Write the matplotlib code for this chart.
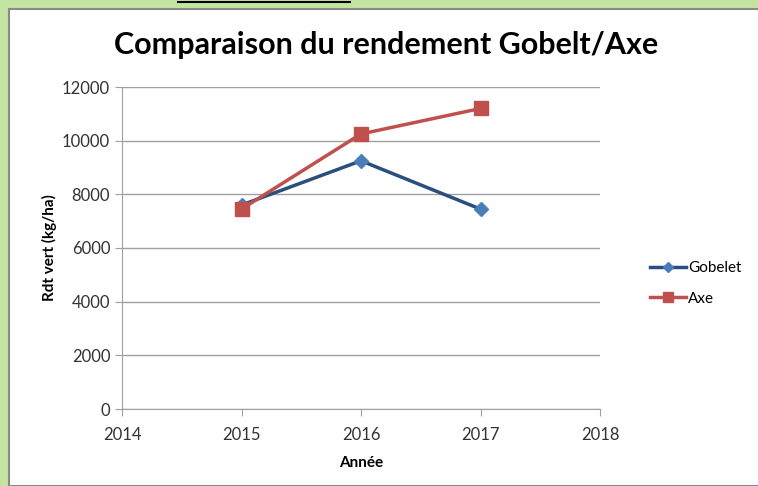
import matplotlib.pyplot as plt
from matplotlib.patches import Rectangle
from matplotlib.lines import Line2D

plt.rcParams['font.family'] = ['Lato', 'DejaVu Sans']

annees = [2015, 2016, 2017]
gobelet = [7600, 9250, 7450]
axe = [7450, 10250, 11200]
xticks = [2014, 2015, 2016, 2017, 2018]
yticks = [0, 2000, 4000, 6000, 8000, 10000, 12000]

fig = plt.figure(figsize=(7.58, 4.86), dpi=100)
fig.patch.set_facecolor('#c4e4a2')

# white chart panel (screenshot crop)
panel = Rectangle((9 / 758, 0), 1.0, 1 - 9 / 486, transform=fig.transFigure,
                  facecolor='white', edgecolor='#8a8a8a', linewidth=1.5, zorder=-5)
fig.patches.append(panel)
# underline fragment from the text above the crop
fig.add_artist(Line2D([178 / 758, 350 / 758], [1 - 2 / 486, 1 - 2 / 486],
                      transform=fig.transFigure, color='black', linewidth=1.5))

ax = fig.add_axes([122 / 758, 77 / 486, 478 / 758, 322 / 486])
ax.set_zorder(2)
ax.set_facecolor('white')

ax.plot(annees, gobelet, color='#2a4e7e', linewidth=2.5, marker='D', markersize=7,
        markerfacecolor='#4a7ebb', markeredgecolor='#4a7ebb', label='Gobelet', zorder=3)
ax.plot(annees, axe, color='#c0504d', linewidth=2.5, marker='s', markersize=10,
        markerfacecolor='#c0504d', markeredgecolor='#c0504d', label='Axe', zorder=3)

ax.set_xlim(2014, 2018)
ax.set_ylim(0, 12000)
ax.set_xticks(xticks)
ax.set_yticks(yticks)
ax.yaxis.grid(True, color='#a0a0a0', linewidth=1)
ax.set_axisbelow(True)
for s in ['top', 'right']:
    ax.spines[s].set_visible(False)
ax.spines['left'].set_color('#a0a0a0')
ax.spines['bottom'].set_color('#a0a0a0')
ax.tick_params(axis='both', colors='#a0a0a0', labelcolor='#333333', labelsize=12,
               length=5, direction='out')
ax.tick_params(axis='x', pad=8)

ax.set_xlabel('Année', fontsize=11, fontweight='bold', labelpad=9)
ax.set_ylabel('Rdt vert (kg/ha)', fontsize=11, fontweight='bold', labelpad=4)

fig.text(386 / 758, 1 - 45 / 486, 'Comparaison du rendement Gobelt/Axe',
         ha='center', va='center', fontsize=22, fontweight='bold')

leg = ax.legend(loc='center left', bbox_to_anchor=(1.075, 0.39), frameon=False,
                fontsize=11, handlelength=2.4, labelspacing=1.1, handletextpad=0.1,
                markerscale=0.75)

fig.savefig('out.png', dpi=100, facecolor=fig.get_facecolor())
